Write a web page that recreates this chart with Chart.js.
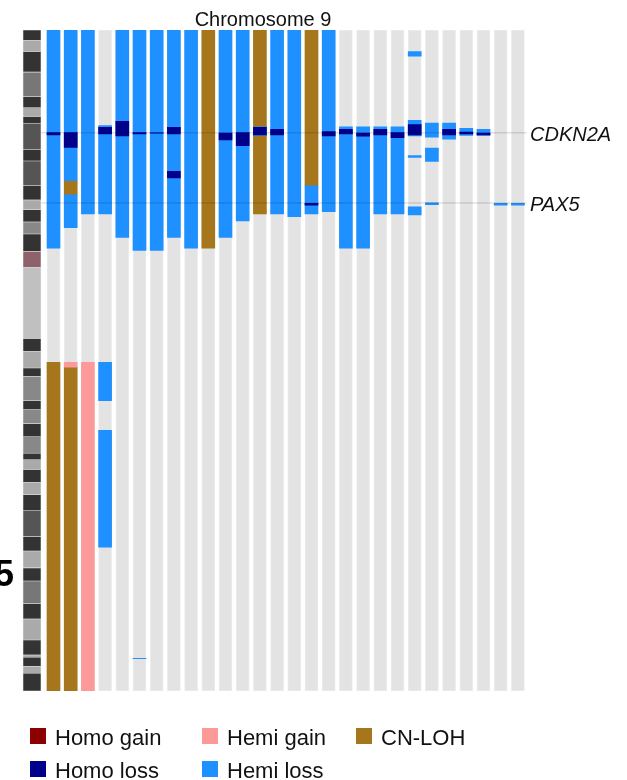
<!DOCTYPE html>
<html>
<head>
<meta charset="utf-8">
<script src="https://cdn.jsdelivr.net/npm/chart.js@4.4.1/dist/chart.umd.min.js"></script>
<style>
  body { margin: 0; background: #ffffff; }
</style>
</head>
<body>
<canvas id="chr9" width="627" height="780"></canvas>
<script>
// chromosome 9, positions in Mb (hg19)
const chromLength = 141.2;
const samples = [1, 2, 3, 4, 5, 6, 7, 8, 9, 10, 11, 12, 13, 14, 15, 16, 17, 18, 19, 20, 21, 22, 23, 24, 25, 26, 27, 28];
const ideogramPos = -0.25;

// cytobands: start, end, stain
const bandStart = [0, 2.2, 4.6, 9.0, 14.2, 16.6, 18.5, 19.9, 25.6, 28.0, 33.2, 36.3, 38.4, 41.0, 43.6, 47.3,
  50.7, 65.9, 68.7, 72.2, 74.0, 79.2, 81.1, 84.1, 86.9, 90.4, 91.8, 93.9, 96.6, 99.3, 102.6, 108.2,
  111.3, 114.9, 117.7, 122.5, 125.8, 130.3, 133.5, 134.0, 135.9, 137.4];
const bandEnd = [2.2, 4.6, 9.0, 14.2, 16.6, 18.5, 19.9, 25.6, 28.0, 33.2, 36.3, 38.4, 41.0, 43.6, 47.3, 50.7,
  65.9, 68.7, 72.2, 74.0, 79.2, 81.1, 84.1, 86.9, 90.4, 91.8, 93.9, 96.6, 99.3, 102.6, 108.2, 111.3,
  114.9, 117.7, 122.5, 125.8, 130.3, 133.5, 134.0, 135.9, 137.4, 141.2];
const bandStain = ['gneg', 'gpos25', 'gneg', 'gpos75', 'gneg', 'gpos25', 'gneg', 'gpos100', 'gneg', 'gpos100',
  'gneg', 'gpos25', 'gneg', 'gpos50', 'gneg', 'acen', 'gvar', 'gneg', 'gpos25', 'gneg', 'gpos50', 'gneg',
  'gpos50', 'gneg', 'gpos50', 'gneg', 'gpos25', 'gneg', 'gpos25', 'gneg', 'gpos100', 'gneg', 'gpos25',
  'gneg', 'gpos75', 'gneg', 'gpos25', 'gneg', 'gpos25', 'gneg', 'gpos25', 'gneg'];

// segments: [sample, start, end]
const hemiLoss = [
  [1, 0, 46.6], [2, 0, 32.2], [2, 35.2, 42.2], [3, 0, 39.3],
  [4, 20.4, 39.3], [4, 71.0, 79.2], [4, 85.5, 110.5],
  [5, 0, 44.3], [6, 0, 47.1], [6, 134.2, 134.27], [7, 0, 47.1], [8, 0, 44.3], [9, 0, 46.6],
  [11, 0, 44.3], [12, 0, 40.8], [13, 20.7, 22.5], [14, 0, 39.3], [15, 0, 39.9],
  [16, 33.3, 39.3], [17, 0, 38.8], [18, 20.7, 46.6], [19, 20.7, 46.6], [20, 20.7, 39.3], [21, 20.7, 39.3],
  [22, 4.6, 5.6], [22, 19.3, 22.6], [22, 26.8, 27.2], [22, 37.8, 39.5],
  [23, 19.9, 22.9], [23, 25.2, 28.1], [23, 36.9, 37.3],
  [24, 19.9, 23.3], [25, 21.0, 22.5], [26, 21.2, 22.5], [27, 37.0, 37.4], [28, 37.0, 37.4]
];
const homoLoss = [
  [1, 21.9, 22.4], [2, 21.9, 25.1], [4, 20.8, 22.2], [5, 19.5, 22.6], [6, 21.9, 22.2],
  [7, 21.95, 22.05], [8, 20.8, 22.2], [8, 30.2, 31.6], [11, 22.0, 23.5], [12, 21.9, 24.7],
  [13, 20.8, 22.4], [14, 21.2, 22.4], [16, 37.0, 37.4], [17, 21.7, 22.6], [18, 21.2, 22.2],
  [19, 22.0, 22.7], [20, 21.2, 22.4], [21, 21.9, 23.0], [22, 20.2, 22.4], [24, 21.2, 22.4],
  [25, 21.8, 22.2], [26, 22.0, 22.4]
];
const cnLoh = [
  [1, 71.0, 141.2], [2, 32.2, 35.2], [2, 72.0, 141.2], [10, 0, 46.6], [13, 0, 39.3], [16, 0, 33.3]
];
const hemiGain = [[2, 71.0, 72.0], [3, 71.0, 141.2]];
const homoGain = [];

const genes = ['CDKN2A', 'PAX5'];
const genePos = [21.97, 36.95];

const legendLabels = ['Homo gain', 'Hemi gain', 'CN-LOH', 'Homo loss', 'Hemi loss'];

// styles
const colors = {
  'Homo gain': '#8b0000', 'Hemi gain': '#fb9a99', 'CN-LOH': '#a6761d',
  'Homo loss': '#00008b', 'Hemi loss': '#1e90ff'
};
const stainColor = {
  gneg: '#333333', gpos25: '#aaaaaa', gpos50: '#888888', gpos75: '#777777',
  gpos100: '#555555', acen: '#8f616a', gvar: '#c0c0c0'
};
const FONT = '"Liberation Sans", Arial, Helvetica, sans-serif';

function segs(list) {
  return list.map(s => ({x: s[0], y: [s[1], s[2]]}));
}

function segDataset(name, list, order) {
  return {
    type: 'bar', label: name, data: segs(list), order: order,
    backgroundColor: colors[name], barThickness: 13, grouped: false, borderWidth: 0
  };
}

const datasets = [];
genes.forEach((g, i) => {
  datasets.push({
    type: 'line', label: g, order: 0,
    data: [{x: 0.3, y: genePos[i]}, {x: 28.5, y: genePos[i]}],
    borderColor: 'rgba(0,0,0,0.18)', borderWidth: 1, pointRadius: 0
  });
});
datasets.push(segDataset('Homo loss', homoLoss, 1));
datasets.push(segDataset('Homo gain', homoGain, 2));
datasets.push(segDataset('Hemi loss', hemiLoss, 3));
datasets.push(segDataset('Hemi gain', hemiGain, 4));
datasets.push(segDataset('CN-LOH', cnLoh, 5));
datasets.push({
  type: 'bar', label: 'ideogram', order: 6, grouped: false, barThickness: 18,
  data: bandStart.map((b, i) => ({x: ideogramPos, y: [b, bandEnd[i]]})),
  backgroundColor: bandStain.map(s => stainColor[s]),
  borderWidth: 0.6, borderColor: 'rgba(220,220,220,0.6)', borderSkipped: false
});
datasets.push({
  type: 'bar', label: 'background', order: 7, grouped: false, barThickness: 13,
  data: samples.map(s => ({x: s, y: [0, chromLength]})),
  backgroundColor: '#e3e3e3', borderWidth: 1, borderColor: '#ececec', borderSkipped: false
});

const textPlugin = {
  id: 'texts',
  afterDraw(chart) {
    const ctx = chart.ctx;
    const yScale = chart.scales.y;
    ctx.save();
    ctx.fillStyle = '#111111';
    ctx.textBaseline = 'alphabetic';

    ctx.font = '20px ' + FONT;
    ctx.textAlign = 'center';
    ctx.fillText('Chromosome 9', 263, 26);

    ctx.textAlign = 'left';
    ctx.font = 'italic 20px ' + FONT;
    genes.forEach((g, i) => {
      ctx.fillText(g, 530, yScale.getPixelForValue(genePos[i]) + 8.5);
    });

    ctx.font = 'bold 36px ' + FONT;
    ctx.fillStyle = '#000000';
    ctx.fillText('5', -6, 586);

    // legend
    const colX = [30, 202, 356];
    const rowY = [745, 778];
    ctx.font = '22px ' + FONT;
    legendLabels.forEach((lab, i) => {
      const x = colX[i % 3];
      const y = rowY[Math.floor(i / 3)];
      ctx.fillStyle = colors[lab];
      ctx.fillRect(x, y - 17, 16, 16);
      ctx.fillStyle = '#111111';
      ctx.fillText(lab, x + 25, y);
    });
    ctx.restore();
  }
};

const chart = new Chart(document.getElementById('chr9').getContext('2d'), {
  type: 'bar',
  data: {datasets: datasets},
  options: {
    responsive: false,
    animation: false,
    layout: {padding: {left: 10.5, right: 83.3, top: 30, bottom: 89}},
    scales: {
      x: {type: 'linear', min: -1.5, max: 29.5, offset: false, display: false},
      y: {type: 'linear', min: 0, max: chromLength, reverse: true, display: false}
    },
    plugins: {
      legend: {display: false},
      title: {display: false},
      tooltip: {enabled: false}
    }
  },
  plugins: [textPlugin]
});
</script>
</body>
</html>
